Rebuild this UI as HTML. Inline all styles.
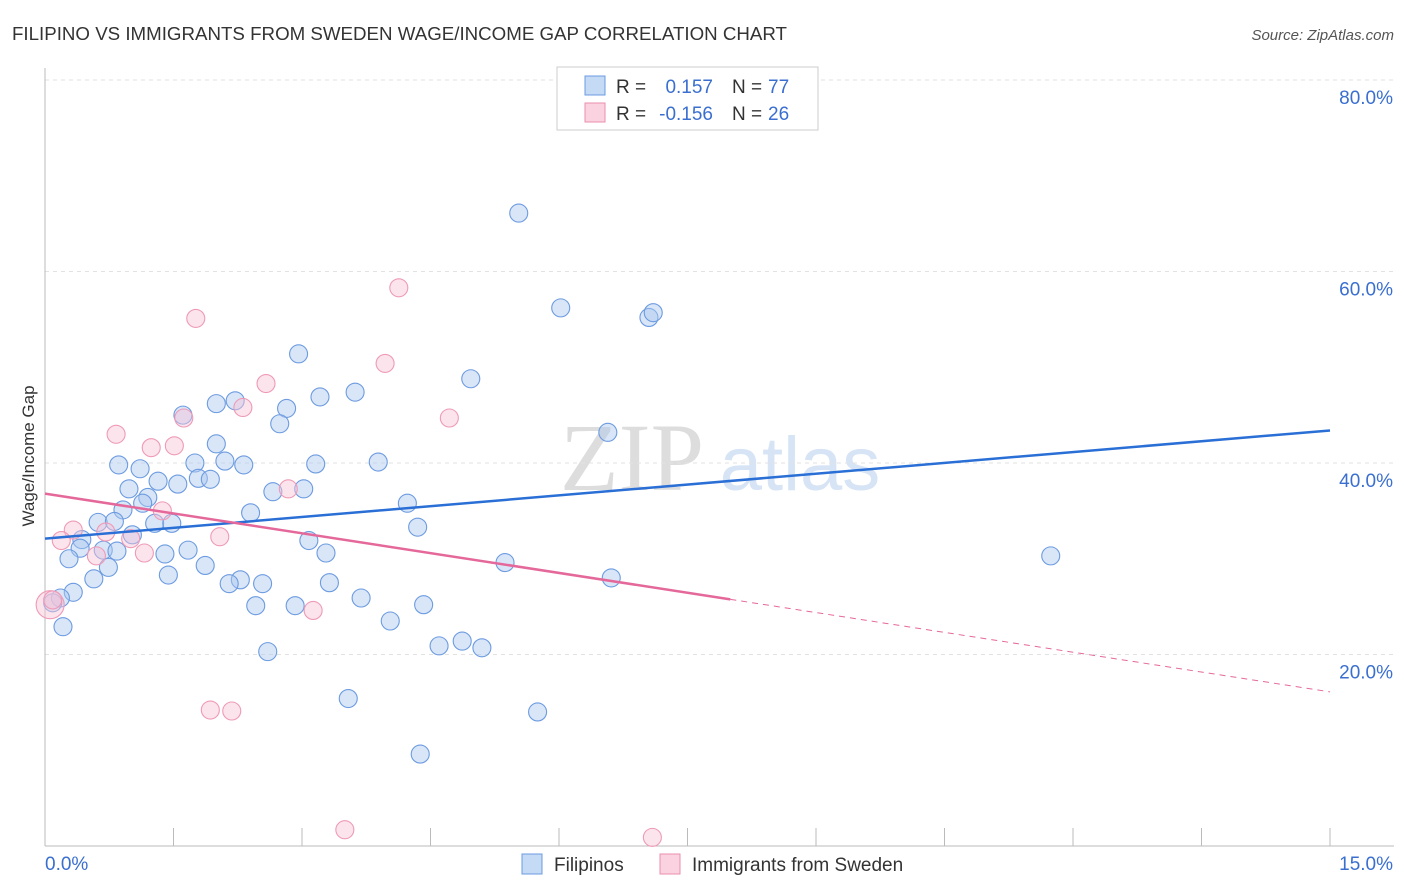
<!DOCTYPE html>
<html><head><meta charset="utf-8"><style>
body{margin:0;background:#fff;font-family:"Liberation Sans",sans-serif}
</style></head><body>
<svg id="c" width="1406" height="892" xmlns="http://www.w3.org/2000/svg" style="display:block">
<text x="12" y="40" font-size="18" fill="#333" textLength="775" lengthAdjust="spacingAndGlyphs">FILIPINO VS IMMIGRANTS FROM SWEDEN WAGE/INCOME GAP CORRELATION CHART</text>
<text x="1394" y="40" font-size="15" fill="#555" text-anchor="end" font-style="italic">Source: ZipAtlas.com</text>
<g><text x="632" y="490" font-size="96" fill="#ddd" text-anchor="middle" font-family="Liberation Serif">ZIP</text><text x="800" y="490" font-size="76" fill="#d6e4f5" text-anchor="middle">atlas</text></g>
<g id="grid"></g><g id="axes"></g><g id="pts"></g><g id="lines"></g>
<text transform="translate(34,456) rotate(-90)" font-size="17" fill="#333" text-anchor="middle">Wage/Income Gap</text>
<g>
<rect x="557" y="67" width="261" height="63" fill="#fff" stroke="#ccc"/>
<rect x="585" y="76" width="20" height="19" fill="#c5daf5" stroke="#6a9be0"/>
<rect x="585" y="103" width="20" height="19" fill="#fbd3e0" stroke="#eb8fae"/>
<text x="616" y="93" font-size="19" fill="#333">R =</text>
<text x="713" y="93" font-size="19" fill="#3a6fd0" text-anchor="end">0.157</text>
<text x="732" y="93" font-size="19" fill="#333">N =</text>
<text x="768" y="93" font-size="19" fill="#3a6fd0">77</text>
<text x="616" y="120" font-size="19" fill="#333">R =</text>
<text x="713" y="120" font-size="19" fill="#3a6fd0" text-anchor="end">-0.156</text>
<text x="732" y="120" font-size="19" fill="#333">N =</text>
<text x="768" y="120" font-size="19" fill="#3a6fd0">26</text>
</g>
<g>
<rect x="522" y="854" width="20" height="20" fill="#c5daf5" stroke="#6a9be0"/>
<text x="554" y="871" font-size="19" fill="#333">Filipinos</text>
<rect x="660" y="854" width="20" height="20" fill="#fbd3e0" stroke="#eb8fae"/>
<text x="692" y="871" font-size="19" fill="#333">Immigrants from Sweden</text>
</g>
</svg>
<script>
const blueX=[5.53,6.02,7.05,7.10,2.96,4.97,3.62,3.21,2.22,2.00,2.82,1.61,2.74,6.57,2.00,3.89,0.86,1.75,2.10,2.32,3.16,1.11,1.32,1.55,1.79,1.93,0.98,2.66,3.02,1.20,1.14,4.23,0.91,2.40,0.62,0.81,1.28,1.48,4.35,1.02,0.43,3.08,0.41,0.68,0.84,1.67,1.40,3.28,0.28,11.74,5.37,0.74,1.87,1.44,0.57,6.61,2.28,2.15,2.54,3.32,0.33,0.18,0.09,3.69,2.46,2.92,4.42,4.03,0.21,4.87,4.60,5.10,2.60,3.54,5.75,4.38];
const blueY=[66.1,56.2,55.2,55.7,51.4,48.8,47.4,46.9,46.5,46.2,45.7,45.0,44.1,43.2,42.0,40.1,39.8,40.0,40.2,39.8,39.9,39.4,38.1,37.8,38.4,38.3,37.3,37.0,37.3,36.4,35.8,35.8,35.1,34.8,33.8,33.9,33.7,33.7,33.3,32.5,32.0,31.9,31.1,30.9,30.8,30.9,30.5,30.6,30.0,30.3,29.6,29.1,29.3,28.3,27.9,28.0,27.8,27.4,27.4,27.5,26.5,25.9,25.4,25.9,25.1,25.1,25.2,23.5,22.9,21.4,20.9,20.7,20.3,15.4,14.0,9.6];
const pinkX=[4.13,1.76,3.97,2.58,2.31,1.62,4.72,0.83,1.24,1.51,2.84,1.37,0.33,0.71,0.19,2.04,1.00,0.60,1.16,3.13,0.06,0.09,1.93,2.18,3.50,7.09];
const pinkY=[58.3,55.1,50.4,48.3,45.8,44.7,44.7,43.0,41.6,41.8,37.3,35.0,33.0,32.8,31.9,32.3,32.1,30.3,30.6,24.6,25.2,25.7,14.2,14.1,1.7,0.9];
const blueTrend=[32.1,43.4];
const pinkTrend=[36.8,16.1]; const pinkSolidEnd=8.0;
const yTicks=[20,40,60,80]; const xTickCount=10;
const NS="http://www.w3.org/2000/svg";
const sx=v=>45+v/15*1285, sy=v=>846-v/20*191.5;
function mk(p,t,a){const e=document.createElementNS(NS,t);for(const k in a)e.setAttribute(k,a[k]);document.getElementById(p).appendChild(e);return e;}
yTicks.forEach(t=>{const l=mk('grid','line',{x1:45,x2:1394,y1:sy(t),y2:sy(t),stroke:'#e2e2e2','stroke-dasharray':'4,4'});


const tx=mk('grid','text',{x:1393,y:sy(t)+24,'font-size':19,fill:'#3a6fd0','text-anchor':'end'});tx.textContent=t.toFixed(1)+'%';

});
let ax=mk('axes','line',{x1:45,x2:45,y1:68,y2:846,stroke:'#bbb'});


ax=mk('axes','line',{x1:45,x2:1394,y1:846,y2:846,stroke:'#bbb'});


for(let i=0;i<=xTickCount;i++){const x=sx(i*1.5);const t=mk('axes','line',{x1:x,x2:x,y1:828,y2:846,stroke:'#bbb'});

}
let xl=mk('axes','text',{x:45,y:870,'font-size':19,fill:'#3a6fd0'});xl.textContent='0.0%';


xl=mk('axes','text',{x:1393,y:870,'font-size':19,fill:'#3a6fd0','text-anchor':'end'});xl.textContent='15.0%';


blueX.forEach((v,i)=>{const c=mk('pts','circle',{cx:sx(v),cy:sy(blueY[i]),r:9,fill:'rgba(170,200,240,0.45)',stroke:'#6c9be0','stroke-width':1.1});

});
pinkX.forEach((v,i)=>{const c=mk('pts','circle',{cx:sx(v),cy:sy(pinkY[i]),r:(i===20?14:9),fill:'rgba(248,195,215,0.45)',stroke:'#ee9ab7','stroke-width':1.1});

});
let l=mk('lines','line',{x1:sx(0),y1:sy(blueTrend[0]),x2:sx(15),y2:sy(blueTrend[1]),stroke:'#2a6fd6','stroke-width':2.5});


const pm=v=>pinkTrend[0]+(pinkTrend[1]-pinkTrend[0])*v/15;
l=mk('lines','line',{x1:sx(0),y1:sy(pm(0)),x2:sx(pinkSolidEnd),y2:sy(pm(pinkSolidEnd)),stroke:'#e5689a','stroke-width':2.5});


l=mk('lines','line',{x1:sx(pinkSolidEnd),y1:sy(pm(pinkSolidEnd)),x2:sx(15),y2:sy(pm(15)),stroke:'#e5689a','stroke-width':1,'stroke-dasharray':'6,5'});


</script>
</body></html>
